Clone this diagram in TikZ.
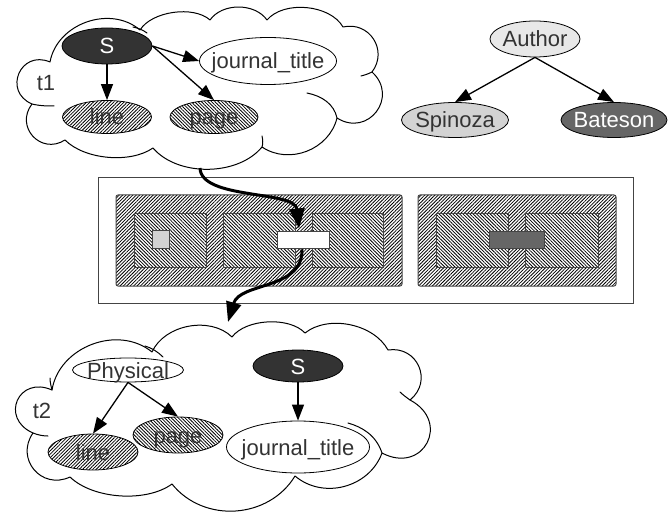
\documentclass[tikz,border=0pt]{standalone}
\usepackage{fontspec}
\setmainfont{Liberation Sans}
\usetikzlibrary{shapes.geometric,arrows.meta,patterns.meta}
\definecolor{txt}{HTML}{333333}
\definecolor{darkfill}{HTML}{333333}
\definecolor{midfill}{HTML}{666666}
\definecolor{lightfill}{HTML}{D3D3D3}
\definecolor{paler}{HTML}{E8E8E8}
\definecolor{boxline}{HTML}{444444}
\begin{document}
\begin{tikzpicture}[x=1pt,y=1pt,
  every node/.style={font=\fontsize{22}{26}\selectfont, text=txt},
  ell/.style={ellipse, draw=black, line width=0.8pt, inner sep=0pt, text height=16pt, text depth=0pt},
  hne/.style={preaction={fill=white}, pattern={Lines[angle=45,distance=2.4pt,line width=0.8pt]}},
  hnw/.style={preaction={fill=white}, pattern={Lines[angle=-45,distance=2.4pt,line width=0.8pt]}},
  arr/.style={-{Triangle[length=16pt,width=12pt]}, line width=1.3pt},
  bigarr/.style={-{Triangle[length=20pt,width=15pt]}, line width=3pt},
  cloudline/.style={line width=1pt, line join=round, line cap=round},
  bx/.style={draw=boxline, line width=1pt},
]
\useasboundingbox (0,0) rectangle (668,-518);

% ---------- cloud t1 ----------
\draw[cloudline] (32,-104)
  to[bend left=90, looseness=1.8] (50,-62)
  to[bend left=60, looseness=1.05] (140,-30)
  to[bend left=50, looseness=0.8] (210,-20)
  to[bend left=55, looseness=0.95] (267,-20)
  to[bend left=55, looseness=0.87] (343,-27)
  to[bend left=70, looseness=1.3] (372,-72)
  to[bend left=85, looseness=1.63] (337,-118)
  to[bend left=55, looseness=1.04] (262,-147)
  to[bend left=50, looseness=0.89] (153,-148)
  to[bend left=40, looseness=0.8] (65,-140)
  to[bend left=80, looseness=1.5] (32,-104);
% overhanging strokes
\draw[cloudline] (32,-104) .. controls (40,-106) and (48,-106) .. (54,-106);
\draw[cloudline] (307,-93) .. controls (322,-96) and (334,-104) .. (337,-118);
\draw[cloudline] (262,-136) .. controls (263,-140) and (263,-144) .. (262,-147);
\draw[cloudline] (133,-27) .. controls (138,-28) and (143,-30) .. (147,-33);
\draw[cloudline] (372,-72) .. controls (368,-74) and (365,-75) .. (361,-76);

\node at (46,-83) {t1};
\node[ell, fill=darkfill, minimum width=90pt, minimum height=36pt] (S1) at (107,-46) {\makebox[0pt]{\color{white}S}};
\node[ell, fill=white, minimum width=137pt, minimum height=47pt] (jt1) at (268,-61) {\makebox[0pt]{journal\_title}};
\node[ell, hne, minimum width=89pt, minimum height=33pt] (line1) at (107,-117) {\makebox[0pt]{line}};
\node[ell, hnw, minimum width=88pt, minimum height=33pt] (page1) at (214,-117) {\makebox[0pt]{page}};
\draw[arr] (S1.south) -- (line1.north);
\draw[arr] (S1.east) -- (jt1.west);
\draw[arr] (S1.east) -- (page1.north);

% ---------- author tree ----------
\node[ell, fill=paler, minimum width=90pt, minimum height=36pt] (author) at (535,-39) {\makebox[0pt]{Author}};
\node[ell, fill=lightfill, minimum width=107pt, minimum height=35pt] (spinoza) at (455,-120) {\makebox[0pt]{Spinoza}};
\node[ell, fill=midfill, minimum width=106pt, minimum height=35pt] (bateson) at (614,-120) {\makebox[0pt]{\color{white}Bateson}};
\draw[arr] (author.south) -- (spinoza.north);
\draw[arr] (author.south) -- (bateson.north);

% ---------- middle structure ----------
\draw[bx, fill=white] (98,-178) rectangle (633,-303);
\draw[bx, hne, rounded corners=2pt] (116,-195) rectangle (402,-286);
\draw[bx, hnw] (134,-214) rectangle (206,-267);
\draw[bx, hnw] (223,-214) rectangle (295,-267);
\draw[bx, hnw] (312,-214) rectangle (383,-267);
\node[bx, fill=lightfill, minimum width=17pt, minimum height=18pt, inner sep=0pt] (sq) at (160.5,-240) {};
\node[bx, fill=white, minimum width=52pt, minimum height=17pt, inner sep=0pt] (wr) at (303,-240.5) {};

\draw[bx, hne, rounded corners=2pt] (418,-195) rectangle (616,-286);
\draw[bx, hnw] (436,-214) rectangle (508,-267);
\draw[bx, hnw] (525,-214) rectangle (598,-267);
\node[bx, fill=midfill, minimum width=55pt, minimum height=17pt, inner sep=0pt] (dr) at (516.5,-240.5) {};

% ---------- thick arrows ----------
\coordinate (c1) at (200,-168);
\coordinate (c2) at (228,-322);
\draw[bigarr] (c1) .. controls (201,-200) and (295,-190) .. ([xshift=-4pt,yshift=3pt]wr.north);
\draw[bigarr] ([xshift=-1pt]wr.south) .. controls (303,-290) and (240,-282) .. (c2);

% ---------- cloud t2 ----------
\draw[cloudline] (33,-433)
  to[bend left=90, looseness=2.0] (52,-390)
  to[bend left=60, looseness=1.05] (152,-352)
  to[bend left=55, looseness=0.95] (232,-337)
  to[bend left=50, looseness=0.8] (305,-333)
  to[bend left=50, looseness=0.9] (388,-350)
  to[bend left=75, looseness=1.4] (410,-400)
  to[bend left=90, looseness=2.0] (382,-453)
  to[bend left=55, looseness=1.05] (295,-476)
  to[bend left=55, looseness=1.05] (172,-484)
  to[bend left=40, looseness=0.8] (70,-477)
  to[bend left=75, looseness=1.4] (33,-433);
% overhanging strokes
\draw[cloudline] (348,-423) .. controls (362,-427) and (376,-435) .. (382,-453);
\draw[cloudline] (145,-346) .. controls (152,-348) and (158,-352) .. (163,-357);
\draw[cloudline] (33,-433) .. controls (38,-435) and (43,-436) .. (48,-436);
\draw[cloudline] (52,-390) .. controls (51,-386) and (50,-382) .. (50,-378);
\draw[cloudline] (410,-400) .. controls (406,-397) and (403,-395) .. (400,-392);

\node at (42,-411) {t2};
\node[ell, fill=white, minimum width=111pt, minimum height=24pt] (phys) at (128,-370) {\makebox[0pt]{Physical}};
\node[ell, hne, minimum width=90pt, minimum height=36pt] (line2) at (93,-452) {\makebox[0pt]{line}};
\node[ell, hnw, minimum width=90pt, minimum height=36pt] (page2) at (178,-435) {\makebox[0pt]{page}};
\node[ell, fill=darkfill, minimum width=90pt, minimum height=32pt] (S2) at (298,-366) {\makebox[0pt]{\color{white}S}};
\node[ell, fill=white, minimum width=143pt, minimum height=52pt] (jt2) at (298,-447) {\makebox[0pt]{journal\_title}};
\draw[arr] (phys.south) -- (line2.north);
\draw[arr] (phys.south) -- (page2.north);
\draw[arr] (S2.south) -- (jt2.north);
\end{tikzpicture}
\end{document}
